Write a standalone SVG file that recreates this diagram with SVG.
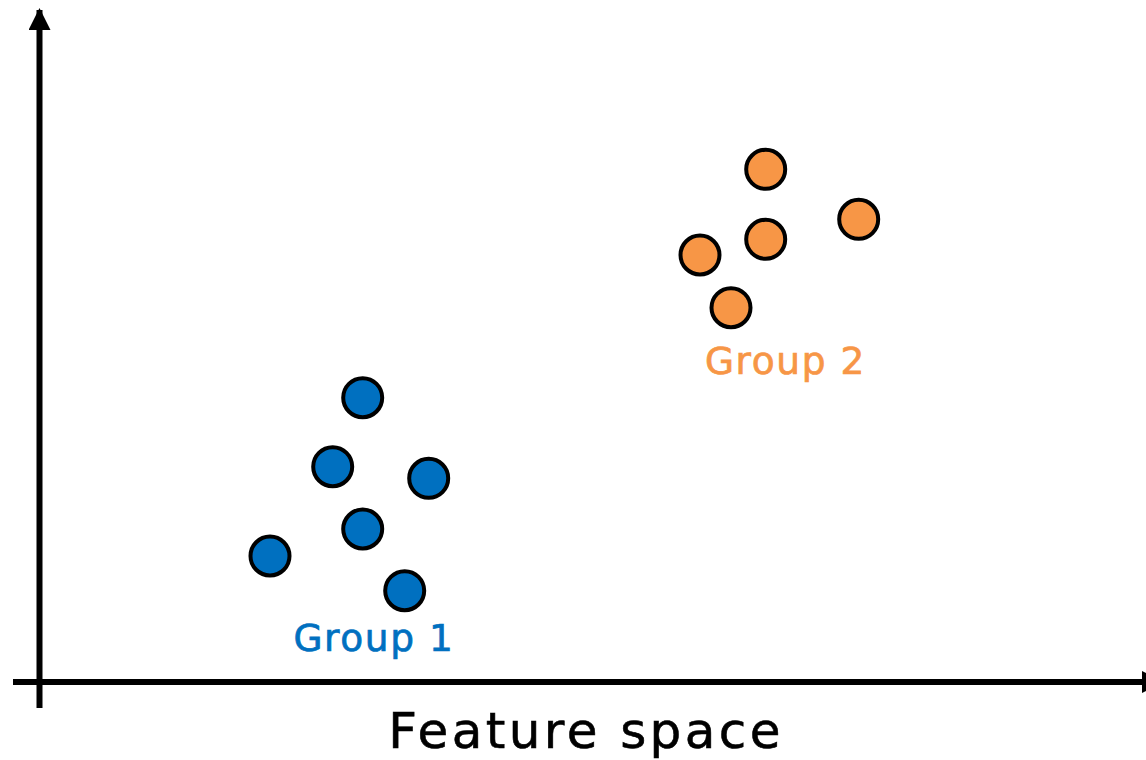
<svg xmlns="http://www.w3.org/2000/svg" width="1146" height="760" viewBox="0 0 1146 760">
<defs>
<style>
.g1{fill:#0070C0;stroke:#000;stroke-width:4}
.g2{fill:#F79646;stroke:#000;stroke-width:4}
.axis{stroke:#000;stroke-width:6;fill:none}
.lbl{font-family:"DejaVu Sans",sans-serif;text-anchor:middle}
</style>
<marker id="ah" markerUnits="userSpaceOnUse" markerWidth="22" markerHeight="22" refX="20" refY="11" orient="auto" viewBox="0 0 22 22">
<path d="M0,0 L22,11 L0,22 Z" fill="#000"/>
</marker>
</defs>
<rect width="1146" height="760" fill="#fff"/>
<g id="connectors">
<line class="axis" x1="39.5" y1="708" x2="39.5" y2="10" marker-end="url(#ah)"/>
<line class="axis" x1="13" y1="682" x2="1162" y2="682" marker-end="url(#ah)"/>
</g>
<g id="group1">
<circle class="g1" cx="362.7" cy="397.7" r="19.5"/>
<circle class="g1" cx="332.7" cy="466.7" r="19.5"/>
<circle class="g1" cx="428.7" cy="478.3" r="19.5"/>
<circle class="g1" cx="362.7" cy="529" r="19.5"/>
<circle class="g1" cx="270" cy="556" r="19.5"/>
<circle class="g1" cx="404.7" cy="590.7" r="19.5"/>
<text class="lbl" x="374" y="651" font-size="37.5" letter-spacing="1.6" fill="#0070C0" stroke="#0070C0" stroke-width="0.7">Group 1</text>
</g>
<g id="group2">
<circle class="g2" cx="765.7" cy="169.3" r="19.5"/>
<circle class="g2" cx="858.7" cy="219.3" r="19.5"/>
<circle class="g2" cx="765.7" cy="239.3" r="19.5"/>
<circle class="g2" cx="700" cy="255" r="19.5"/>
<circle class="g2" cx="731" cy="307.7" r="19.5"/>
<text class="lbl" x="785.5" y="373.5" font-size="37.5" letter-spacing="1.6" fill="#F79646" stroke="#F79646" stroke-width="0.7">Group 2</text>
</g>
<g id="xlabel">
<text class="lbl" x="586" y="748" font-size="50" letter-spacing="3.4" fill="#000" stroke="#000" stroke-width="0.6">Feature space</text>
</g>
</svg>
